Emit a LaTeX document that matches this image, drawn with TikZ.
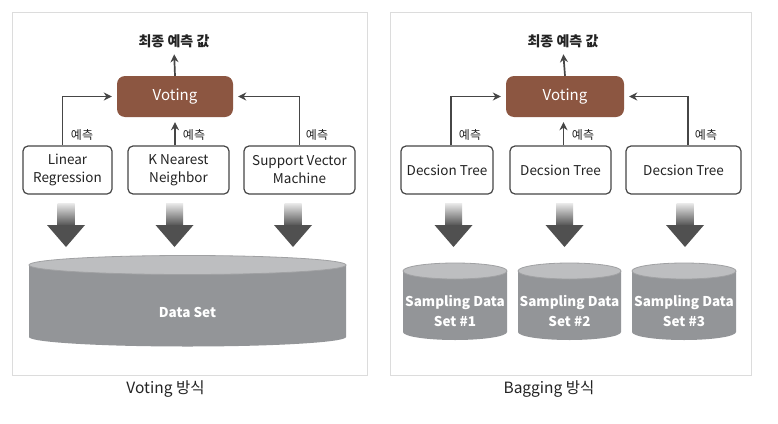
\documentclass[tikz,border=0pt]{standalone}
\usepackage{fontspec}
\setmainfont{Noto Sans CJK KR}
\usetikzlibrary{arrows.meta}
\definecolor{brownbox}{RGB}{140,86,65}
\definecolor{linegray}{RGB}{70,70,70}
\definecolor{framegray}{RGB}{220,220,220}
\definecolor{cylbodyc}{RGB}{147,149,152}
\definecolor{cyltopc}{RGB}{189,190,192}
\definecolor{cyledge}{RGB}{160,161,163}
\definecolor{txt}{RGB}{35,35,35}
\definecolor{arrdark}{RGB}{80,80,80}
\newcommand\thickarrow[1]{%
  \shade[top color=white!92!black, bottom color=arrdark] ({#1-8.5},203) rectangle ({#1+8.5},226);
  \fill[arrdark] ({#1-19},225) -- ({#1+19},225) -- (#1,247) -- cycle;}
\newcommand\cylshape[5]{%
  \fill[cylbodyc] ({#1-#2},#3) -- ({#1-#2},#4) arc[start angle=180,end angle=360,x radius=#2pt,y radius=#5pt] -- ({#1+#2},#3) -- cycle;
  \filldraw[fill=cyltopc, draw=cyledge, line width=0.8pt] (#1,#3) ellipse [x radius=#2pt, y radius=#5pt];}
\begin{document}
\begin{tikzpicture}[x=1pt,y=-1pt,
  model/.style={draw=linegray, line width=1.2pt, rounded corners=5pt, fill=white, text=txt,
     align=center, inner sep=1pt, font=\fontsize{13.5}{18}\selectfont},
  votebox/.style={fill=brownbox, rounded corners=8pt, text=white, minimum width=116pt,
     minimum height=41pt, font=\fontsize{15}{18}\selectfont},
  conn/.style={draw=linegray, line width=1.7pt, shorten >=5pt, -{Stealth[length=8pt,width=8pt]}},
  lbl/.style={text=txt, font=\fontsize{12}{14}\selectfont, inner sep=0pt},
  ttl/.style={text=txt, font=\bfseries\fontsize{14}{16}\selectfont, inner sep=1pt},
  captxt/.style={text=txt, font=\fontsize{15.5}{18}\selectfont},
  dtxt/.style={text=white, font=\bfseries\fontsize{13.5}{20}\selectfont, align=center}]
\useasboundingbox (0,0) rectangle (778,423);
\fill[white] (0,0) rectangle (778,423);
% frames
\draw[framegray, line width=1pt] (12,12) rectangle (367,375);
\draw[framegray, line width=1pt] (390,12) rectangle (751,375);

% ---------- Voting panel ----------
\node[ttl] (t1) at (174,41.5) {최종 예측 값};
\node[votebox] (v1) at (175,96.5) {Voting};
\node[model, minimum width=89pt, minimum height=48pt] (lr) at (67.5,170) {Linear\\Regression};
\node[model, minimum width=101pt, minimum height=48pt] (knn) at (178.5,170) {K Nearest\\Neighbor};
\node[model, minimum width=111pt, minimum height=48pt] (svm) at (299.5,170) {Support Vector\\Machine};
\draw[conn] (v1.north) -- (t1.south);
\draw[conn] ([xshift=-5pt]lr.north) |- (v1.west);
\draw[conn] (v1.south |- knn.north) -- (v1.south);
\draw[conn] (svm.north) |- (v1.east);
\node[lbl] (l1) at (82,135) {예측};
\node[lbl] (l2) at (194,135) {예측};
\node[lbl] (l3) at (317,135) {예측};
\thickarrow{66}
\thickarrow{174.5}
\thickarrow{293}
\cylshape{187.5}{158.5}{265}{337}{9.5}
\node[dtxt] (ds) at (187.5,312.5) {Data Set};
\node[captxt] (c1) at (165.5,389) {Voting 방식};

% ---------- Bagging panel ----------
\node[ttl] (t2) at (563,41.5) {최종 예측 값};
\node[votebox, minimum width=118pt] (v2) at (565,96.5) {Voting};
\node[model, minimum width=92pt, minimum height=48pt] (dt1) at (447,170) {Decsion Tree};
\node[model, minimum width=101pt, minimum height=48pt] (dt2) at (560.5,170) {Decsion Tree};
\node[model, minimum width=115pt, minimum height=48pt] (dt3) at (683.5,170) {Decsion Tree};
\draw[conn] (v2.north) -- (t2.south);
\draw[conn] ([xshift=4pt]dt1.north) |- (v2.west);
\draw[conn] ([xshift=-1.5pt]v2.south |- dt2.north) -- ([xshift=-1.5pt]v2.south);
\draw[conn] ([xshift=4.5pt]dt3.north) |- (v2.east);
\node[lbl] (l4) at (470,135) {예측};
\node[lbl] (l5) at (583,135) {예측};
\node[lbl] (l6) at (706,135) {예측};
\thickarrow{453.5}
\thickarrow{564.5}
\thickarrow{685}
\cylshape{455}{52}{271}{332}{8}
\cylshape{569.5}{51.5}{271}{332}{8}
\cylshape{684}{52}{271}{332}{8}
\node[dtxt] (s1) at (455,311) {Sampling Data\\Set \#1};
\node[dtxt] (s2) at (569.5,311) {Sampling Data\\Set \#2};
\node[dtxt] (s3) at (684,311) {Sampling Data\\Set \#3};
\node[captxt] (c2) at (549,389) {Bagging 방식};
\end{tikzpicture}
\end{document}
